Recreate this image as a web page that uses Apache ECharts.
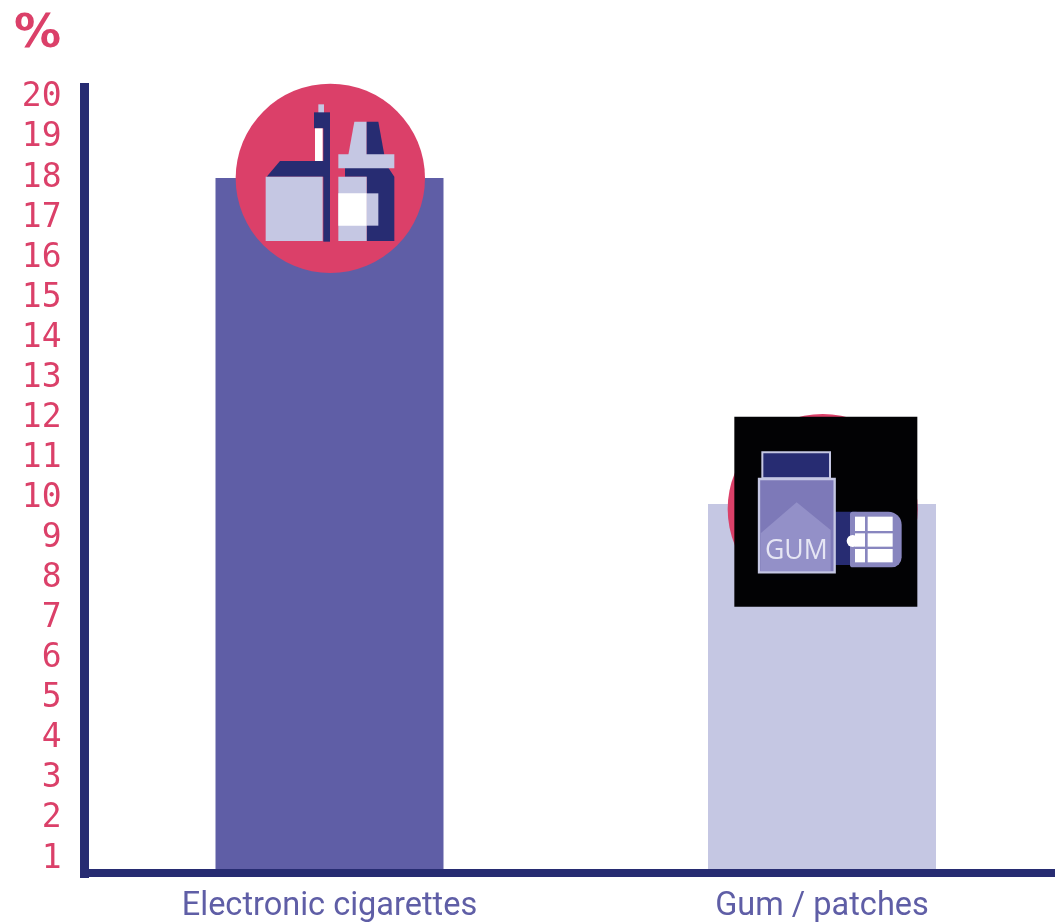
<!DOCTYPE html>
<html><head><meta charset="utf-8">
<style>html,body{margin:0;padding:0;background:#fff;overflow:hidden}#c{width:1055px;height:922px}</style>
<script src="https://cdn.jsdelivr.net/npm/echarts@6/dist/echarts.min.js"></script>
</head><body><div id="c"></div>
<script>
const categories = ['Electronic cigarettes', 'Gum / patches'];
const shares = [18, 9.86];
const tickLabels = [1,2,3,4,5,6,7,8,9,10,11,12,13,14,15,16,17,18,19,20];
const barColors = ['#5f5ea6', '#c5c7e3'];
const NAVY='#272c72', ROSE='#db4069', LIGHT='#c5c7e3', WHITE='#ffffff', MID='#7d79b8';

const Z=20;
const R=(x,y,w,h,fill,extra)=>Object.assign({type:'rect',z:Z,shape:{x,y,width:w,height:h},style:{fill}},extra||{});
const P=(pts,fill)=>({type:'polygon',z:Z,shape:{points:pts},style:{fill}});

const eCigIcon={type:'group',x:225,y:75,scaleX:1/3,scaleY:1/3,children:[
  {type:'circle',z:Z,shape:{cx:316,cy:310,r:284},style:{fill:ROSE}},
  R(280,88,17,30,LIGHT),
  R(267,112,48,48,NAVY),
  R(295,150,20,350,NAVY),
  R(270,160,23,98,WHITE),
  P([[125,305],[165,258],[315,258],[315,305]],NAVY),
  R(122,305,171,193,LIGHT),
  P([[388,140],[425,140],[425,240],[370,240]],LIGHT),
  P([[425,140],[460,140],[478,240],[425,240]],NAVY),
  P([[360,278],[490,278],[508,305],[508,498],[425,498],[425,305],[360,305]],NAVY),
  R(340,238,168,42,LIGHT),
  R(340,305,85,193,LIGHT),
  R(425,355,35,97,LIGHT),
  R(340,355,85,97,WHITE)
]};

const gumIcon={type:'group',x:700,y:405,scaleX:1/3,scaleY:1/3,children:[
  {type:'circle',z:Z,shape:{cx:368,cy:312,r:285},style:{fill:ROSE}},
  R(103,35,549,570,'#020204'),
  R(187,142,203,78,NAVY,{style:{fill:NAVY,stroke:LIGHT,lineWidth:6}}),
  R(400,320,70,160,NAVY),
  R(450,320,155,167,'#8886bf',{shape:{x:450,y:320,width:155,height:167,r:[8,40,30,8]}}),
  R(465,335,30,43,WHITE),R(503,335,75,43,WHITE),
  R(465,385,30,40,WHITE),R(503,385,75,40,WHITE),
  R(465,432,30,40,WHITE),R(503,432,75,40,WHITE),
  {type:'circle',z:Z,shape:{cx:458,cy:408,r:18},style:{fill:WHITE}},
  R(177,222,227,280,MID,{style:{fill:MID,stroke:LIGHT,lineWidth:7}}),
  P([[290,292],[392,375],[392,498],[182,498],[182,385]],'#9390c8'),
  {type:'text',z:Z,x:289,y:440,style:{text:'GUM',fill:'#e6e6f4',font:'80px "Open Sans", sans-serif',align:'center',verticalAlign:'middle'}}
]};

const chart=echarts.init(document.getElementById('c'),null,{renderer:'canvas'});
chart.setOption({
  animation:false,
  backgroundColor:'#ffffff',
  title:{text:'%',left:9,top:6,textStyle:{color:ROSE,fontSize:47,fontWeight:'bold',fontFamily:'"DejaVu Sans"'}},
  grid:{left:83.25,width:985,top:83,height:790,containLabel:false,outerBoundsMode:'none'},
  xAxis:{type:'category',data:categories,z:5,
    axisLine:{lineStyle:{color:NAVY,width:8,cap:'butt'}},axisTick:{show:false},
    axisLabel:{color:'#5f5ea6',fontSize:32.5,fontFamily:'Roboto',margin:17,interval:0}},
  yAxis:{type:'value',min:0.65,max:20.37,offset:-1.25,z:5,splitLine:{show:false},
    axisLine:{show:true,onZero:false,lineStyle:{color:NAVY,width:9,cap:'butt'}},axisTick:{show:false},
    axisLabel:{color:ROSE,fontSize:33,fontFamily:'"DejaVu Sans Mono"',margin:23,customValues:tickLabels,hideOverlap:false,showMinLabel:true,showMaxLabel:true}},
  series:[{type:'bar',barWidth:228,silent:true,z:1,
    data:shares.map((v,i)=>({value:v,itemStyle:{color:barColors[i]}}))}],
  graphic:[R(80,873,9,5,NAVY),eCigIcon,gumIcon]
});
</script></body></html>
